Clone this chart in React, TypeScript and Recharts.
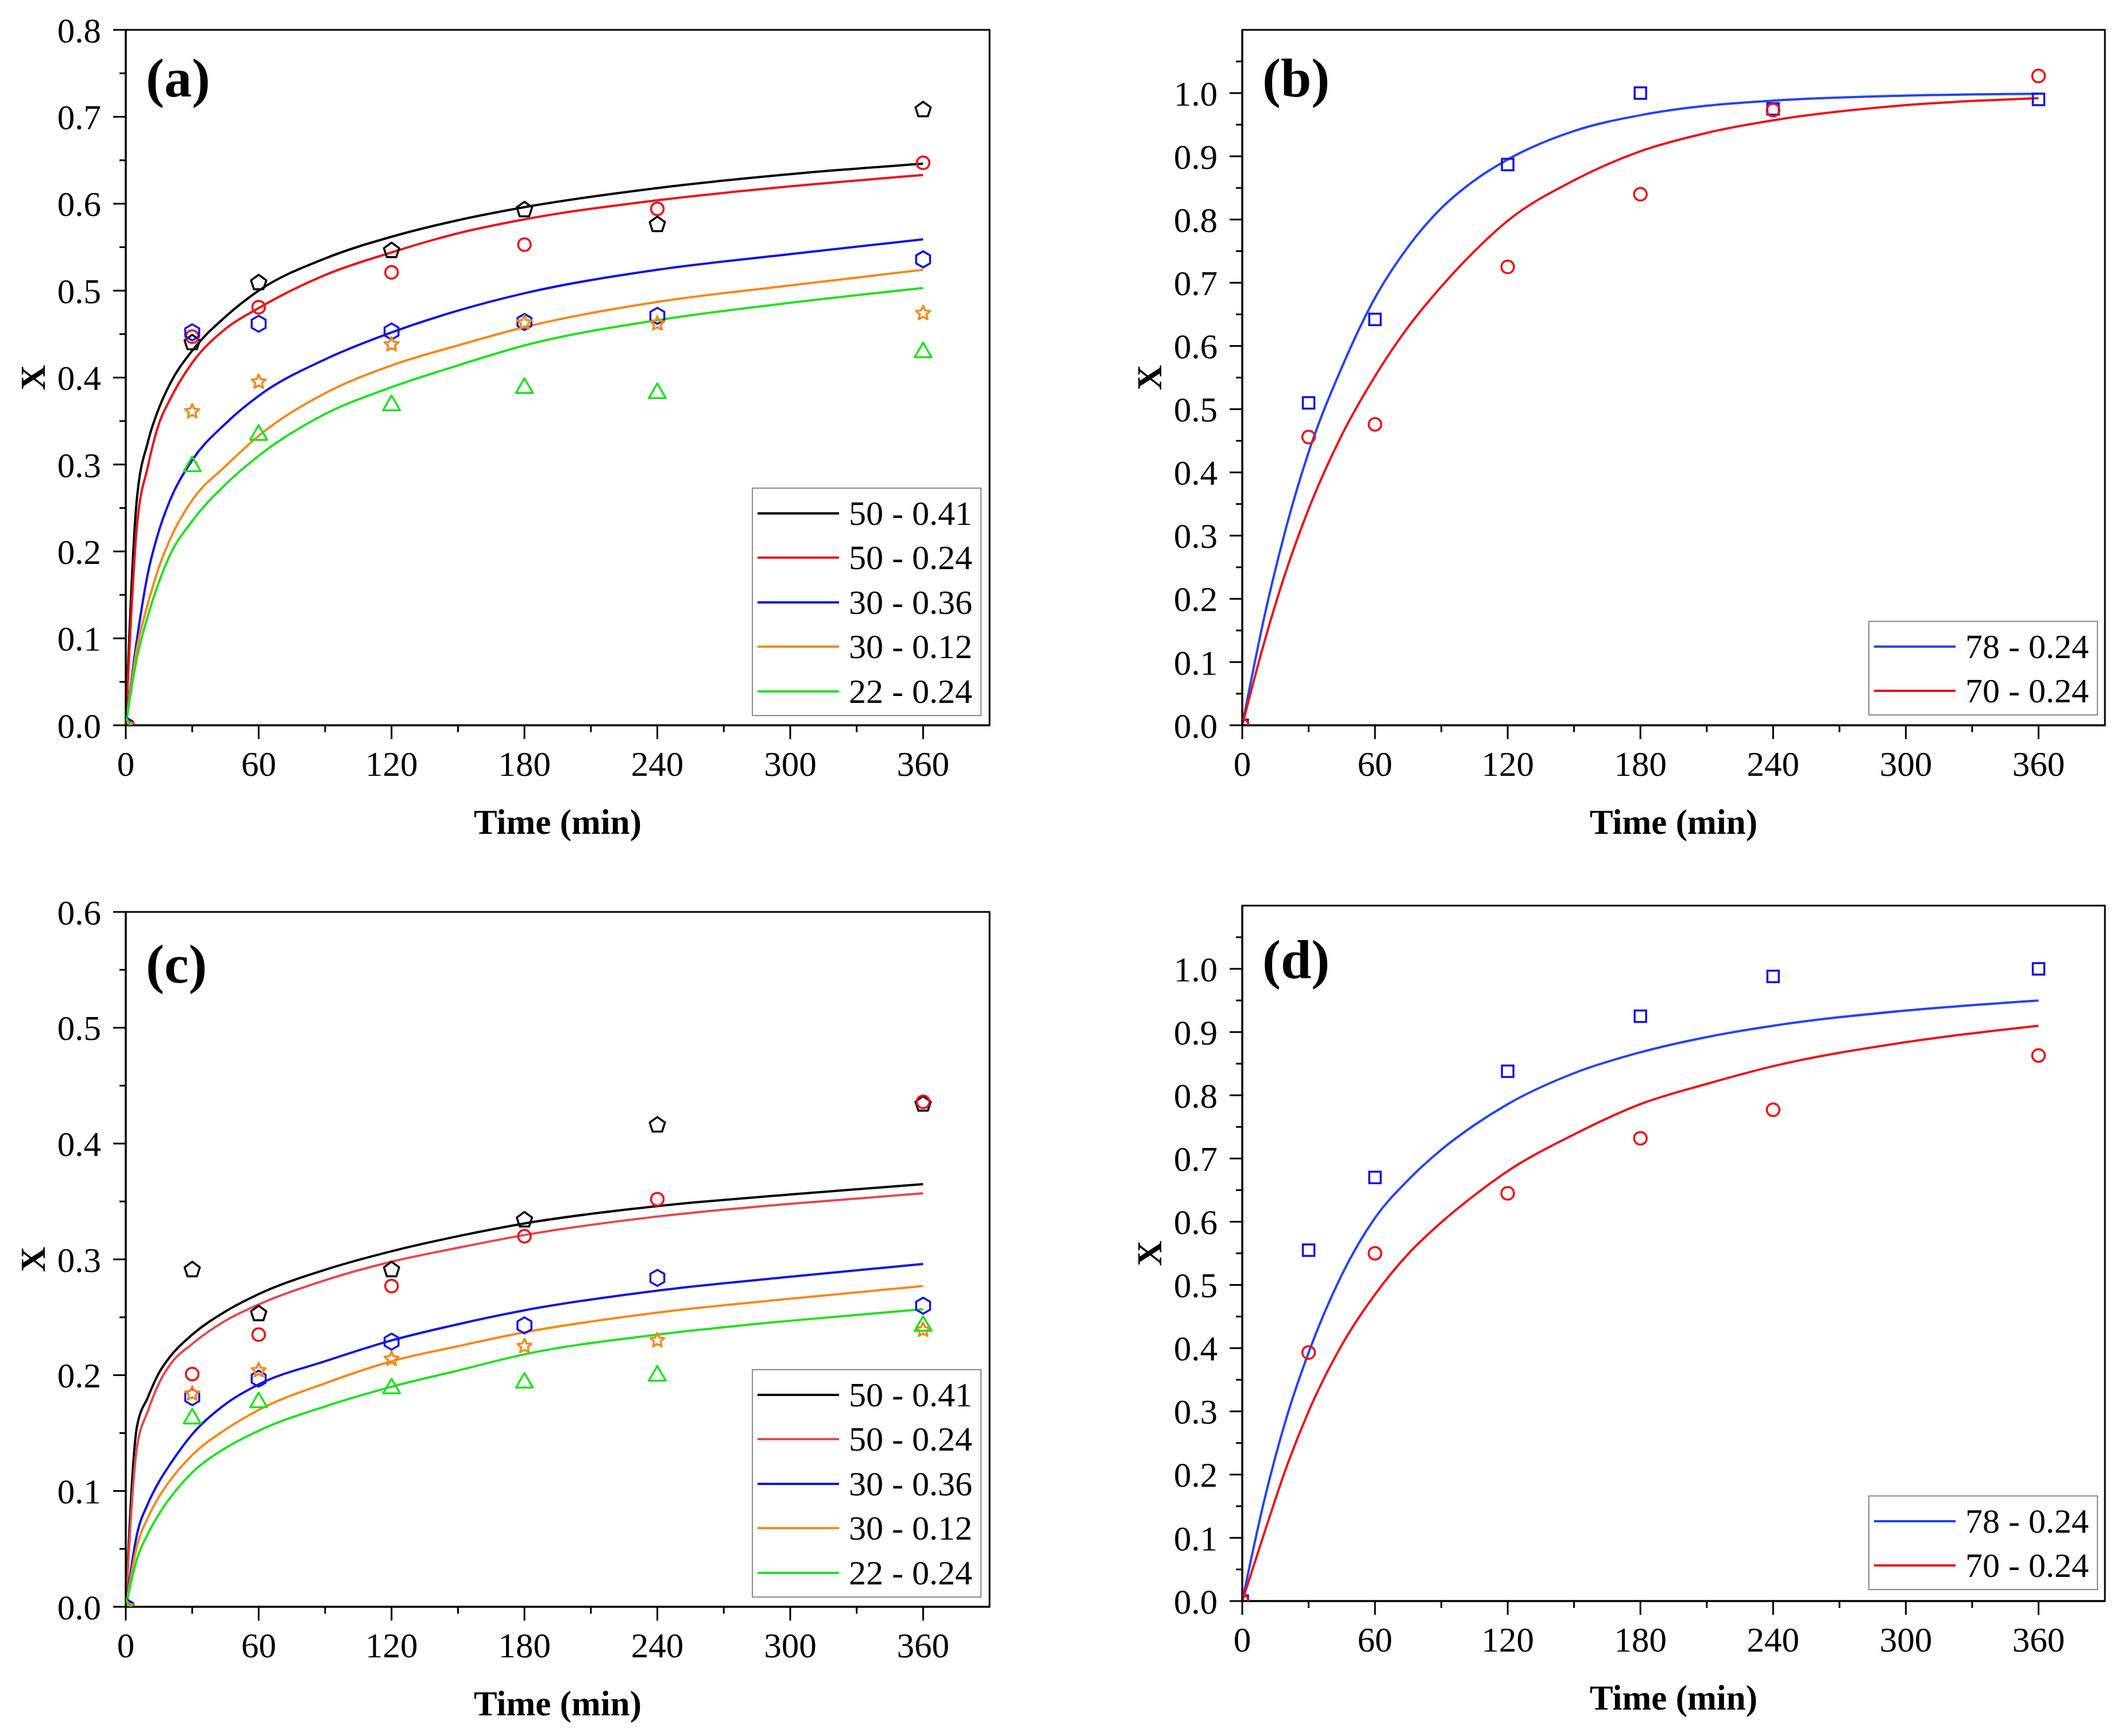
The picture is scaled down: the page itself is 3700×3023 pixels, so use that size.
import React from "react";
import { ComposedChart, Line, XAxis, YAxis, ReferenceArea, Label, Legend } from "recharts";

const FONT = '"Liberation Serif", "Times New Roman", Times, serif';

// ---------- ticks ----------
const xTicks = [0, 30, 60, 90, 120, 150, 180, 210, 240, 270, 300, 330, 360];
const xMajor = [0, 60, 120, 180, 240, 300, 360];
const yTicksA = [0, 0.05, 0.1, 0.15, 0.2, 0.25, 0.3, 0.35, 0.4, 0.45, 0.5, 0.55, 0.6, 0.65, 0.7, 0.75, 0.8];
const yMajorA = [0, 0.1, 0.2, 0.3, 0.4, 0.5, 0.6, 0.7, 0.8];
const yTicksC = [0, 0.05, 0.1, 0.15, 0.2, 0.25, 0.3, 0.35, 0.4, 0.45, 0.5, 0.55, 0.6];
const yMajorC = [0, 0.1, 0.2, 0.3, 0.4, 0.5, 0.6];
const yTicksBD = [0, 0.05, 0.1, 0.15, 0.2, 0.25, 0.3, 0.35, 0.4, 0.45, 0.5, 0.55, 0.6, 0.65, 0.7, 0.75, 0.8, 0.85, 0.9, 0.95, 1.0, 1.05];
const yMajorBD = [0, 0.1, 0.2, 0.3, 0.4, 0.5, 0.6, 0.7, 0.8, 0.9, 1.0];

// ---------- series names ----------
const namesAC = ["50 - 0.41", "50 - 0.24", "30 - 0.36", "30 - 0.12", "22 - 0.24"];
const namesBD = ["78 - 0.24", "70 - 0.24"];

// ---------- time grids ----------
const tPts = [0, 30, 60, 120, 180, 240, 360];
const tFitAC = [0, 5, 10, 15, 20, 30, 45, 60, 90, 120, 150, 180, 240, 300, 360];
const tFitBD = [0, 10, 20, 30, 45, 60, 75, 90, 105, 120, 150, 180, 210, 240, 300, 360];

// ---------- panel (a) ----------
const aFit5041 = [0, 0.26, 0.326, 0.365, 0.393, 0.431, 0.47, 0.5, 0.537, 0.562, 0.581, 0.596, 0.618, 0.634, 0.646];
const aFit5024 = [0, 0.228, 0.298, 0.347, 0.375, 0.417, 0.456, 0.48, 0.518, 0.544, 0.566, 0.582, 0.604, 0.62, 0.633];
const aFit3036 = [0, 0.098, 0.175, 0.224, 0.259, 0.305, 0.347, 0.379, 0.421, 0.452, 0.477, 0.497, 0.524, 0.542, 0.559];
const aFit3012 = [0, 0.088, 0.14, 0.182, 0.214, 0.259, 0.298, 0.333, 0.382, 0.414, 0.437, 0.458, 0.487, 0.506, 0.524];
const aFit2224 = [0, 0.077, 0.126, 0.165, 0.196, 0.235, 0.277, 0.31, 0.358, 0.389, 0.414, 0.437, 0.466, 0.486, 0.503];
const aPts5041 = [0, 0.44, 0.509, 0.546, 0.593, 0.576, 0.708];
const aPts5024 = [0, 0.447, 0.481, 0.521, 0.553, 0.594, 0.647];
const aPts3036 = [0, 0.452, 0.462, 0.453, 0.464, 0.471, 0.536];
const aPts3012 = [0, 0.361, 0.395, 0.438, 0.463, 0.462, 0.474];
const aPts2224 = [0, 0.3, 0.336, 0.37, 0.39, 0.384, 0.431];

// ---------- panel (b) ----------
const bFit7824 = [0, 0.172, 0.315, 0.432, 0.566, 0.676, 0.757, 0.818, 0.862, 0.895, 0.94, 0.965, 0.98, 0.988, 0.996, 0.999];
const bFit7024 = [0, 0.132, 0.246, 0.342, 0.459, 0.552, 0.63, 0.694, 0.75, 0.798, 0.862, 0.908, 0.937, 0.957, 0.981, 0.992];
const bPts7824 = [0, 0.51, 0.642, 0.887, 1.0, 0.975, 0.99];
const bPts7024 = [0, 0.456, 0.476, 0.725, 0.84, 0.973, 1.027];

// ---------- panel (c) ----------
const cFit5041 = [0, 0.155, 0.181, 0.202, 0.216, 0.235, 0.255, 0.27, 0.291, 0.307, 0.32, 0.331, 0.346, 0.356, 0.365];
const cFit5024 = [0, 0.137, 0.169, 0.193, 0.209, 0.227, 0.247, 0.261, 0.282, 0.298, 0.31, 0.321, 0.337, 0.348, 0.357];
const cFit3036 = [0, 0.062, 0.089, 0.108, 0.123, 0.149, 0.175, 0.192, 0.212, 0.23, 0.244, 0.256, 0.273, 0.285, 0.296];
const cFit3012 = [0, 0.052, 0.077, 0.095, 0.109, 0.131, 0.153, 0.17, 0.193, 0.212, 0.225, 0.237, 0.254, 0.266, 0.277];
const cFit2224 = [0, 0.041, 0.063, 0.08, 0.094, 0.116, 0.137, 0.152, 0.173, 0.19, 0.204, 0.218, 0.235, 0.247, 0.257];
const cPts5041 = [0, 0.291, 0.253, 0.291, 0.334, 0.416, 0.434];
const cPts5024 = [0, 0.201, 0.235, 0.277, 0.32, 0.352, 0.436];
const cPts3036 = [0, 0.181, 0.197, 0.229, 0.243, 0.284, 0.26];
const cPts3012 = [0, 0.184, 0.204, 0.214, 0.225, 0.23, 0.239];
const cPts2224 = [0, 0.164, 0.178, 0.19, 0.195, 0.201, 0.244];

// ---------- panel (d) ----------
const dFit7824 = [0, 0.16, 0.29, 0.393, 0.516, 0.606, 0.666, 0.714, 0.753, 0.786, 0.835, 0.868, 0.892, 0.91, 0.934, 0.95];
const dFit7024 = [0, 0.108, 0.212, 0.3, 0.405, 0.485, 0.549, 0.599, 0.642, 0.68, 0.738, 0.786, 0.818, 0.846, 0.884, 0.91];
const dPts7824 = [0, 0.555, 0.67, 0.838, 0.925, 0.988, 1.0];
const dPts7024 = [0, 0.393, 0.55, 0.645, 0.732, 0.777, 0.863];

// ---------- colours ----------
const BLACK = "#000000";
const RED = "#e8141c";
const RED_LIGHT = "#e24a4e";
const BLUE = "#1414dc";
const BLUE_LIGHT = "#2444f0";
const ORANGE = "#f28a1e";
const GREEN = "#22e022";

const zip = (ts: number[], vs: number[]) => ts.map((t, i) => ({ t, v: vs[i] }));

type Fit = { name: string; color: string; data: { t: number; v: number }[] };
type Pts = { color: string; shape: string; data: { t: number; v: number }[] };

const polyPoints = (cx: number, cy: number, n: number, r: number, inner?: number) => {
  const pts: string[] = [];
  const count = inner ? n * 2 : n;
  for (let i = 0; i < count; i++) {
    const rr = inner ? (i % 2 === 0 ? r : inner) : r;
    const a = -Math.PI / 2 + (i * 2 * Math.PI) / count;
    pts.push(`${cx + rr * Math.cos(a)},${cy + rr * Math.sin(a)}`);
  }
  return pts.join(" ");
};

const Marker = ({ shape, cx, cy, color }: any) => {
  if (cx == null || cy == null || isNaN(cx) || isNaN(cy)) return <g />;
  const common = { fill: "none", stroke: color, strokeWidth: 3.5, strokeLinejoin: "round" as const };
  switch (shape) {
    case "circle":
      return <circle cx={cx} cy={cy} r={11} {...common} />;
    case "square":
      return <rect x={cx - 10} y={cy - 10} width={20} height={20} {...common} strokeLinejoin="miter" />;
    case "pentagon":
      return <polygon points={polyPoints(cx, cy, 5, 14)} {...common} />;
    case "hexagon":
      return <polygon points={polyPoints(cx, cy, 6, 14)} {...common} />;
    case "triangle":
      return <polygon points={polyPoints(cx, cy + 3, 3, 17)} {...common} />;
    case "star":
      return <polygon points={polyPoints(cx, cy, 5, 13, 6)} {...common} />;
    default:
      return <circle cx={cx} cy={cy} r={11} {...common} />;
  }
};

const near = (list: number[], v: number) => list.some((m) => Math.abs(m - v) < 1e-6);

const XTick = (props: any) => {
  const { x, y, payload } = props;
  const major = near(xMajor, payload.value);
  const axisY = y - 24 - 21;
  return (
    <g>
      <line x1={x} x2={x} y1={axisY} y2={axisY + (major ? 24 : 12)} stroke="#000" strokeWidth={3} />
      {major && (
        <text x={x} y={y} dy="0.71em" textAnchor="middle" fontSize={61} fontFamily={FONT} fill="#000">
          {payload.value}
        </text>
      )}
    </g>
  );
};

const makeYTick = (majors: number[]) => (props: any) => {
  const { x, y, payload } = props;
  const major = near(majors, payload.value);
  const axisX = x + 22 + 21;
  return (
    <g>
      <line x1={axisX - (major ? 22 : 11)} x2={axisX} y1={y} y2={y} stroke="#000" strokeWidth={3} />
      {major && (
        <text x={x} y={y} dy="0.355em" textAnchor="end" fontSize={61} fontFamily={FONT} fill="#000">
          {Number(payload.value).toFixed(1)}
        </text>
      )}
    </g>
  );
};

type PanelCfg = {
  letter: string;
  left: number;
  top: number;
  width: number;
  height: number;
  margin: { top: number; right: number; bottom: number; left: number };
  yDomain: [number, number];
  yTicks: number[];
  yMajor: number[];
  fits: Fit[];
  pts: Pts[];
  names: string[];
  legend: { left: number; top: number; width: number; height: number };
  letterDy: number;
};

const LegendBox = ({ payload, names, box }: any) => {
  const items = (payload || [])
    .filter((p: any) => p.type !== "none" && names.includes(p.value))
    .sort((a: any, b: any) => names.indexOf(a.value) - names.indexOf(b.value));
  return (
    <div
      style={{
        boxSizing: "border-box",
        width: box.width,
        height: box.height,
        border: "2px solid #8a8a8a",
        background: "#ffffff",
        padding: "4px 0 4px 8px",
        fontFamily: FONT,
      }}
    >
      {items.map((it: any) => (
        <div key={it.value} style={{ display: "flex", alignItems: "center", height: 77.5 }}>
          <svg width={142} height={10} style={{ display: "block" }}>
            <line x1={0} x2={142} y1={5} y2={5} stroke={it.color} strokeWidth={4} />
          </svg>
          <span style={{ marginLeft: 17, fontSize: 60, lineHeight: 1, color: "#000", whiteSpace: "nowrap" }}>{it.value}</span>
        </div>
      ))}
    </div>
  );
};

const Panel = ({ cfg }: { cfg: PanelCfg }) => {
  const YTick = makeYTick(cfg.yMajor);
  return (
    <div style={{ position: "absolute", left: cfg.left, top: cfg.top, width: cfg.width, height: cfg.height }}>
      <ComposedChart width={cfg.width} height={cfg.height} margin={cfg.margin}>
        <XAxis
          type="number"
          dataKey="t"
          domain={[0, 390]}
          ticks={xTicks}
          interval={0}
          tick={(p: any) => <XTick {...p} />}
          tickLine={false}
          tickSize={24}
          tickMargin={21}
          axisLine={{ stroke: "#000", strokeWidth: 3 }}
          height={100}
          allowDataOverflow
        >
          <Label
            content={({ viewBox }: any) => (
              <text
                x={viewBox.x + viewBox.width / 2}
                y={viewBox.y + 189}
                textAnchor="middle"
                fontSize={61}
                fontWeight="bold"
                fontFamily={FONT}
                fill="#000"
              >
                Time (min)
              </text>
            )}
          />
        </XAxis>
        <YAxis
          type="number"
          domain={cfg.yDomain}
          ticks={cfg.yTicks}
          interval={0}
          tick={(p: any) => <YTick {...p} />}
          tickLine={false}
          tickSize={22}
          tickMargin={21}
          width={150}
          axisLine={{ stroke: "#000", strokeWidth: 3 }}
          allowDataOverflow
        >
          <Label
            content={({ viewBox }: any) => {
              const cx = viewBox.x + viewBox.width - 162;
              const cy = viewBox.y + viewBox.height / 2;
              return (
                <text
                  x={cx}
                  y={cy}
                  transform={`rotate(-90 ${cx} ${cy})`}
                  textAnchor="middle"
                  dominantBaseline="central"
                  fontSize={61}
                  fontWeight="bold"
                  fontFamily={FONT}
                  fill="#000"
                >
                  X
                </text>
              );
            }}
          />
        </YAxis>
        <ReferenceArea
          x1={0}
          x2={390}
          y1={cfg.yDomain[0]}
          y2={cfg.yDomain[1]}
          fill="none"
          fillOpacity={0}
          stroke="#000"
          strokeWidth={3}
          ifOverflow="visible"
        >
          <Label
            content={({ viewBox }: any) => (
              <text
                x={viewBox.x + 35}
                y={viewBox.y + cfg.letterDy}
                fontSize={96}
                fontWeight="bold"
                fontFamily={FONT}
                fill="#000"
              >
                {cfg.letter}
              </text>
            )}
          />
        </ReferenceArea>
        {cfg.fits.map((s) => (
          <Line
            key={`fit-${s.name}`}
            data={s.data}
            dataKey="v"
            name={s.name}
            type="monotone"
            stroke={s.color}
            strokeWidth={4}
            dot={false}
            activeDot={false}
            isAnimationActive={false}
          />
        ))}
        {cfg.pts.map((s, k) => (
          <Line
            key={`pts-${k}`}
            data={s.data}
            dataKey="v"
            name={`pts-${k}`}
            stroke="none"
            legendType="none"
            activeDot={false}
            isAnimationActive={false}
            dot={(p: any) => <Marker key={`m-${k}-${p.index}`} shape={s.shape} cx={p.cx} cy={p.cy} color={s.color} />}
          />
        ))}
        <Legend
          layout="vertical"
          align="center"
          verticalAlign="middle"
          wrapperStyle={{
            left: cfg.legend.left,
            top: cfg.legend.top,
            width: cfg.legend.width,
            height: cfg.legend.height,
          }}
          content={(p: any) => <LegendBox payload={p.payload} names={cfg.names} box={cfg.legend} />}
        />
      </ComposedChart>
    </div>
  );
};

const fitsA: Fit[] = [
  { name: namesAC[0], color: BLACK, data: zip(tFitAC, aFit5041) },
  { name: namesAC[1], color: RED, data: zip(tFitAC, aFit5024) },
  { name: namesAC[2], color: BLUE, data: zip(tFitAC, aFit3036) },
  { name: namesAC[3], color: ORANGE, data: zip(tFitAC, aFit3012) },
  { name: namesAC[4], color: GREEN, data: zip(tFitAC, aFit2224) },
];
const ptsA: Pts[] = [
  { color: BLACK, shape: "pentagon", data: zip(tPts, aPts5041) },
  { color: RED, shape: "circle", data: zip(tPts, aPts5024) },
  { color: BLUE, shape: "hexagon", data: zip(tPts, aPts3036) },
  { color: ORANGE, shape: "star", data: zip(tPts, aPts3012) },
  { color: GREEN, shape: "triangle", data: zip(tPts, aPts2224) },
];
const fitsC: Fit[] = [
  { name: namesAC[0], color: BLACK, data: zip(tFitAC, cFit5041) },
  { name: namesAC[1], color: RED_LIGHT, data: zip(tFitAC, cFit5024) },
  { name: namesAC[2], color: BLUE, data: zip(tFitAC, cFit3036) },
  { name: namesAC[3], color: ORANGE, data: zip(tFitAC, cFit3012) },
  { name: namesAC[4], color: GREEN, data: zip(tFitAC, cFit2224) },
];
const ptsC: Pts[] = [
  { color: BLACK, shape: "pentagon", data: zip(tPts, cPts5041) },
  { color: RED, shape: "circle", data: zip(tPts, cPts5024) },
  { color: BLUE, shape: "hexagon", data: zip(tPts, cPts3036) },
  { color: ORANGE, shape: "star", data: zip(tPts, cPts3012) },
  { color: GREEN, shape: "triangle", data: zip(tPts, cPts2224) },
];
const fitsB: Fit[] = [
  { name: namesBD[0], color: BLUE_LIGHT, data: zip(tFitBD, bFit7824) },
  { name: namesBD[1], color: RED, data: zip(tFitBD, bFit7024) },
];
const ptsB: Pts[] = [
  { color: BLUE, shape: "square", data: zip(tPts, bPts7824) },
  { color: RED, shape: "circle", data: zip(tPts, bPts7024) },
];
const fitsD: Fit[] = [
  { name: namesBD[0], color: BLUE_LIGHT, data: zip(tFitBD, dFit7824) },
  { name: namesBD[1], color: RED, data: zip(tFitBD, dFit7024) },
];
const ptsD: Pts[] = [
  { color: BLUE, shape: "square", data: zip(tPts, dPts7824) },
  { color: RED, shape: "circle", data: zip(tPts, dPts7024) },
];

const panels: PanelCfg[] = [
  {
    letter: "(a)",
    left: 0,
    top: 0,
    width: 1850,
    height: 1500,
    margin: { top: 52, right: 127, bottom: 137, left: 69 },
    yDomain: [0, 0.8],
    yTicks: yTicksA,
    yMajor: yMajorA,
    fits: fitsA,
    pts: ptsA,
    names: namesAC,
    legend: { left: 1309, top: 849, width: 400, height: 398 },
    letterDy: 116,
  },
  {
    letter: "(b)",
    left: 1850,
    top: 0,
    width: 1850,
    height: 1500,
    margin: { top: 52, right: 35, bottom: 137, left: 163 },
    yDomain: [0, 1.1],
    yTicks: yTicksBD,
    yMajor: yMajorBD,
    fits: fitsB,
    pts: ptsB,
    names: namesBD,
    legend: { left: 1403, top: 1081, width: 400, height: 165 },
    letterDy: 116,
  },
  {
    letter: "(c)",
    left: 0,
    top: 1500,
    width: 1850,
    height: 1523,
    margin: { top: 88, right: 127, bottom: 125, left: 69 },
    yDomain: [0, 0.6],
    yTicks: yTicksC,
    yMajor: yMajorC,
    fits: fitsC,
    pts: ptsC,
    names: namesAC,
    legend: { left: 1309, top: 884, width: 400, height: 398 },
    letterDy: 123,
  },
  {
    letter: "(d)",
    left: 1850,
    top: 1500,
    width: 1850,
    height: 1523,
    margin: { top: 77, right: 35, bottom: 135, left: 163 },
    yDomain: [0, 1.1],
    yTicks: yTicksBD,
    yMajor: yMajorBD,
    fits: fitsD,
    pts: ptsD,
    names: namesBD,
    legend: { left: 1403, top: 1104, width: 400, height: 165 },
    letterDy: 126,
  },
];

export default function App() {
  return (
    <div
      style={{
        position: "absolute",
        left: 0,
        top: 0,
        width: 3700,
        height: 3023,
        background: "#ffffff",
        overflow: "hidden",
        fontFamily: FONT,
      }}
    >
      {panels.map((cfg) => (
        <Panel key={cfg.letter} cfg={cfg} />
      ))}
    </div>
  );
}
